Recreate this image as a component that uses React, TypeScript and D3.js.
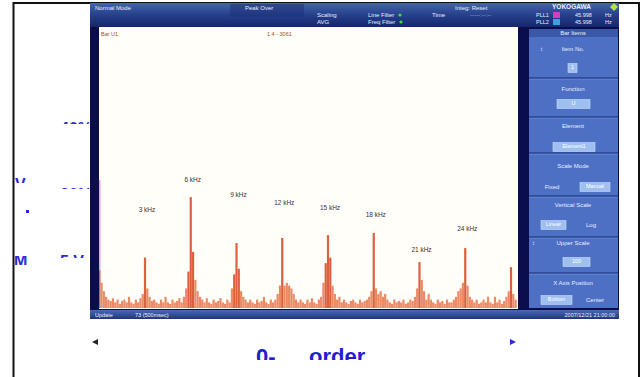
import * as d3 from "d3";

// bar level per order, in % of upper scale
const barLevels = [
  13.5, 9, 6, 4, 3, 2.5, 3.5, 2, 3, 1.5, 2.5, 3, 2, 4, 2, 1.5, 3, 2, 3.5, 5,
  18, 7, 4, 2.5, 3, 2, 1.5, 3, 2, 4, 2, 1.5, 3, 2, 2.5, 3.5, 2, 4, 7, 13,
  39.6, 20, 10, 6, 4, 3, 2, 3.5, 2, 1.5, 3, 2, 2.5, 3.5, 2, 1.5, 3, 2, 7, 12,
  23.2, 14, 6, 4, 3, 2, 3, 2, 1.5, 3, 2, 2.5, 4, 2, 1.5, 3, 2, 3, 5, 8,
  25, 8, 9, 8, 7, 5, 3, 2, 3, 2, 1.5, 3, 2, 3.5, 2, 1.5, 3, 4, 9, 16,
  26, 18, 8, 5, 3, 4, 2, 3, 2, 1.5, 2.5, 3, 2, 1.5, 3, 2, 2.5, 3, 4, 6,
  26.8, 7, 5, 6, 4, 5, 3, 2, 1.5, 3, 2, 2.5, 2, 3, 1.5, 2, 3, 2.5, 4, 7,
  16.4, 10, 6, 3, 5, 3, 2, 1.5, 3, 2, 2.5, 1.5, 3, 2, 2, 3, 4, 6, 7, 9,
  21.4, 8, 4, 3, 2, 3, 1.5, 2, 3, 2, 4, 2, 1.5, 4, 2, 3, 1.5, 2.5, 4, 6,
  14.6, 5, 3,
];

const peakOrders = [20, 40, 60, 80, 100, 120, 140, 160];
const peakLabels = ["3 kHz", "6 kHz", "9 kHz", "12 kHz", "15 kHz", "18 kHz", "21 kHz", "24 kHz"];
const peakLabelLevels = [35, 45.7, 40.4, 37.5, 35.7, 33.2, 20.7, 28.2];

const font = "Liberation Sans, Arial, sans-serif";

const x = d3.scaleLinear().domain([0, 180]).range([99.25, 511]);
const y = d3.scaleLinear().domain([0, 100]).range([308, 28]);

const Title = ({ t, cy, cx = 573 }: { t: string; cy: number; cx?: number }) => (
  <text x={cx} y={cy} fontSize={6} fill="#e8eeff" textAnchor="middle" dominantBaseline="middle">
    {t}
  </text>
);

const Box = ({ t, x0, x1, cy }: { t: string; x0: number; x1: number; cy: number }) => (
  <g>
    <rect x={x0} y={cy - 4.5} width={x1 - x0} height={9} fill="#9ebff0" stroke="#c8dcff" strokeWidth={0.6} />
    <text x={(x0 + x1) / 2} y={cy} fontSize={5.5} fill="#ffffff" textAnchor="middle" dominantBaseline="middle">
      {t}
    </text>
  </g>
);

export default function App() {
  const seps = [78, 117, 153, 196, 237, 273];
  const frags = [
    { t: "40%", x: 60, y: 134, c: [119, 124] },
    { t: "V", x: 15, y: 190, c: [176, 183] },
    { t: "20%", x: 60, y: 200, c: [185, 189] },
    { t: "M", x: 14, y: 266, c: [256, 265] },
    { t: "5 V", x: 60, y: 267, c: [251, 258] },
  ];
  return (
    <svg width={643} height={377} style={{ position: "absolute", left: 0, top: 0 }} fontFamily={font}>
      <defs>
        <linearGradient id="topbar" x1="0" y1="0" x2="0" y2="1">
          <stop offset="0" stopColor="#4564b0" />
          <stop offset="0.5" stopColor="#26408a" />
          <stop offset="1" stopColor="#15266c" />
        </linearGradient>
        <linearGradient id="status" x1="0" y1="0" x2="0" y2="1">
          <stop offset="0" stopColor="#4a6ab5" />
          <stop offset="1" stopColor="#1f3578" />
        </linearGradient>
        <clipPath id="plotClip">
          <rect x={99} y={27} width={419} height={282} />
        </clipPath>
        {frags.map((f, i) => (
          <clipPath id={`fr${i}`} key={i}>
            <rect x={0} y={f.c[0]} width={90} height={f.c[1] - f.c[0]} />
          </clipPath>
        ))}
        <clipPath id="bottomClip">
          <rect x={200} y={330} width={260} height={30} />
        </clipPath>
      </defs>

      <rect width={643} height={377} fill="#ffffff" />

      {/* slide text peeking out behind the screen */}
      {frags.map((f, i) => (
        <text key={i} x={f.x} y={f.y} fontSize={16} fontWeight="bold" fill="#2a2ad6" clipPath={`url(#fr${i})`}>
          {f.t}
        </text>
      ))}
      <rect x={26} y={210} width={3} height={3} fill="#2a2ad6" />

      {/* outer frame */}
      <line x1={13.5} y1={2} x2={13.5} y2={377} stroke="#111" strokeWidth={2} />
      <line x1={13} y1={3} x2={640} y2={3} stroke="#111" strokeWidth={2} />
      <line x1={639} y1={2} x2={639} y2={377} stroke="#111" strokeWidth={2} />

      {/* screen */}
      <rect x={90} y={3} width={529} height={316} fill="#0b0d4c" />
      <rect x={90} y={3} width={529} height={24} fill="url(#topbar)" />
      <rect x={230} y={4} width={74} height={13} fill="#1b2f78" opacity={0.5} />
      <g fontSize={6} fill="#e8eeff">
        <text x={95} y={10}>Normal Mode</text>
        <text x={245} y={10}>Peak Over</text>
        <text x={317} y={17}>Scaling</text>
        <text x={317} y={24}>AVG</text>
        <text x={368} y={17}>Line Filter</text>
        <text x={368} y={24}>Freq Filter</text>
        <text x={432} y={17}>Time</text>
        <text x={455} y={10}>Integ: Reset</text>
        <text x={470} y={17} fill="#9fb3e0">-----:--:--</text>
        <text x={552} y={9} fontWeight="bold" fontSize={6.5}>YOKOGAWA</text>
        <text x={536} y={17} fontSize={5.5}>PLL1</text>
        <text x={536} y={24} fontSize={5.5}>PLL2</text>
        <text x={575} y={17} fontSize={5.5}>45.998</text>
        <text x={575} y={24} fontSize={5.5}>45.998</text>
        <text x={605} y={17} fontSize={5.5}>Hz</text>
        <text x={605} y={24} fontSize={5.5}>Hz</text>
      </g>
      <rect x={553} y={12} width={7} height={6} fill="#d63cc0" />
      <rect x={553} y={19} width={7} height={6} fill="#3aa0e0" />
      <circle cx={400} cy={15} r={1.6} fill="#3cdc3c" />
      <circle cx={401} cy={22} r={1.6} fill="#3cdc3c" />
      <path d="M614,3 L618,7 L614,11 L610,7 Z" fill="#b8e04a" />

      {/* plot area */}
      <rect x={99} y={27} width={419} height={282} fill="#fffef8" />
      <rect x={99} y={180} width={1.5} height={128} fill="#c86cc0" opacity={0.6} />
      <text x={101} y={36} fontSize={5.5} fill="#a8481a">Bar U1</text>
      <text x={267} y={36} fontSize={5.5} fill="#a8481a">1   4 - 3061</text>

      <g clipPath="url(#plotClip)">
        {barLevels.map((v, i) => (
          <rect
            key={i}
            x={x(i) - 1.1}
            y={y(v)}
            width={2.2}
            height={y(0) - y(v)}
            fill={v > 10 ? "#dc603e" : "#ec8a68"}
          />
        ))}
      </g>
      {peakOrders.map((o, i) => (
        <text
          key={o}
          x={x(o) + 2}
          y={y(peakLabelLevels[i])}
          fontSize={6.5}
          fill="#333"
          textAnchor="middle"
          dominantBaseline="middle"
        >
          {peakLabels[i]}
        </text>
      ))}

      {/* right menu */}
      <rect x={529} y={29} width={89} height={279} fill="#4d6fc4" />
      <rect x={529} y={29} width={89} height={8} fill="#3a58a8" />
      <Title t="Bar Items" cy={33} />
      {seps.map((s) => (
        <g key={s}>
          <line x1={529} x2={618} y1={s} y2={s} stroke="#27408c" strokeWidth={1.5} />
          <line x1={529} x2={618} y1={s + 1.2} y2={s + 1.2} stroke="#7d9be0" strokeWidth={0.5} />
        </g>
      ))}
      <text x={540} y={49} fontSize={6} fill="#e8eeff" dominantBaseline="middle">↕</text>
      <Title t="Item No." cy={49} />
      <Box t="1" x0={568} x1={577} cy={68} />
      <Title t="Function" cy={89} />
      <Box t="U" x0={557} x1={590} cy={104} />
      <Title t="Element" cy={126} />
      <Box t="Element1" x0={553} x1={595} cy={147} />
      <Title t="Scale Mode" cy={166} />
      <Title t="Fixed" cy={187} cx={552} />
      <Box t="Manual" x0={580} x1={610} cy={187} />
      <Title t="Vertical Scale" cy={205} />
      <Box t="Linear" x0={541} x1={566} cy={225} />
      <Title t="Log" cy={225} cx={591} />
      <text x={532} y={243} fontSize={6} fill="#e8eeff" dominantBaseline="middle">↕</text>
      <Title t="Upper Scale" cy={243} />
      <Box t="100" x0={563} x1={590} cy={262} />
      <Title t="X Axis Position" cy={283} />
      <Box t="Bottom" x0={541} x1={572} cy={300} />
      <Title t="Center" cy={300} cx={595} />

      {/* status bar */}
      <rect x={90} y={310} width={529} height={9} fill="url(#status)" />
      <text x={95} y={317} fontSize={5.5} fill="#e8eeff">Update</text>
      <text x={135} y={317} fontSize={5.5} fill="#e8eeff">73 (500msec)</text>
      <text x={615} y={317} fontSize={5.5} fill="#e8eeff" textAnchor="end">2007/12/21  21:00:00</text>

      {/* slide caption below the screen */}
      <path d="M92,342 L98,339 L98,345 Z" fill="#222" />
      <path d="M516,342 L510,339 L510,345 Z" fill="#2a2ad6" />
      <g clipPath="url(#bottomClip)" fontSize={22} fontWeight="bold" fill="#2020d0">
        <text x={256} y={364}>0-</text>
        <text x={309} y={364}>order</text>
      </g>
    </svg>
  );
}
